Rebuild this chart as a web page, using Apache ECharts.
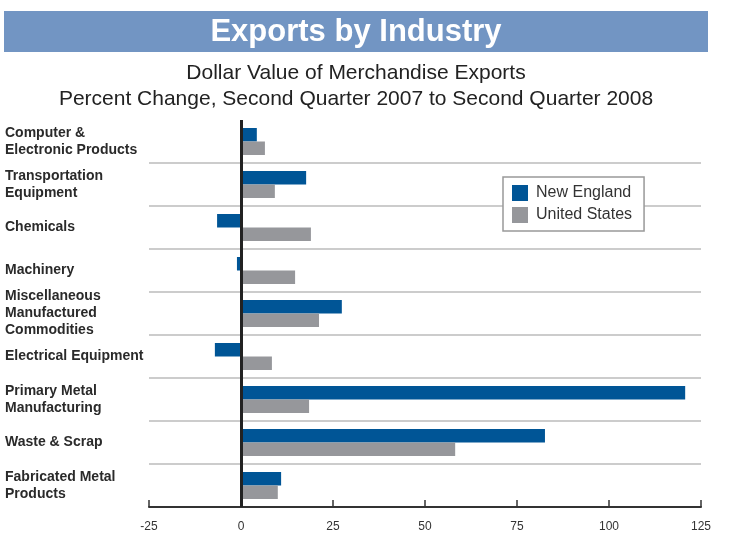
<!DOCTYPE html>
<html>
<head>
<meta charset="utf-8">
<script src="https://cdn.jsdelivr.net/npm/echarts@6/dist/echarts.min.js"></script>
<style>
  html, body { margin: 0; padding: 0; background: #fff; }
  #chart { width: 737px; height: 544px; }
</style>
</head>
<body>
<div id="chart"></div>
<script>
let industries = [
  'Computer &\nElectronic Products',
  'Transportation\nEquipment',
  'Chemicals',
  'Machinery',
  'Miscellaneous\nManufactured\nCommodities',
  'Electrical Equipment',
  'Primary Metal\nManufacturing',
  'Waste & Scrap',
  'Fabricated Metal\nProducts'
];
let newEngland = [4.3, 17.7, -6.5, -1.1, 27.4, -7.1, 120.7, 82.6, 10.9];
let unitedStates = [6.5, 9.2, 19.0, 14.7, 21.2, 8.4, 18.5, 58.2, 10.0];
let xTicks = [-25, 125, 25]; // min, max, step

let myChart;
function exportsChart(){
  let chartDom = document.getElementById('chart');
  if(myChart){
    myChart.dispose();
  }
  myChart = echarts.init(chartDom);
  let font = 'Liberation Sans, Arial, sans-serif';

  // no separator above the first band
  let sepColors = industries.map(function(d, i){ return i == 0 ? 'rgba(0,0,0,0)' : '#bbb'; });
  sepColors.push('#bbb');

  let options = {
    animation: false,
    textStyle: { fontFamily: font },
    graphic: [
      {
        type: 'rect',
        shape: { x: 4, y: 11, width: 704, height: 41 },
        style: { fill: '#7295c3' }
      },
      {
        type: 'text',
        x: 356, y: 32,
        style: {
          text: 'Exports by Industry',
          fill: '#fff',
          font: 'bold 31px ' + font,
          align: 'center',
          verticalAlign: 'middle'
        }
      },
      {
        type: 'text',
        x: 356, y: 73,
        style: {
          text: 'Dollar Value of Merchandise Exports',
          fill: '#222',
          font: '21px ' + font,
          align: 'center',
          verticalAlign: 'middle'
        }
      },
      {
        type: 'text',
        x: 356, y: 99,
        style: {
          text: 'Percent Change, Second Quarter 2007 to Second Quarter 2008',
          fill: '#222',
          font: '21px ' + font,
          align: 'center',
          verticalAlign: 'middle'
        }
      }
    ],
    legend: {
      orient: 'vertical',
      left: 503,
      top: 177,
      padding: [8, 12, 8, 9],
      backgroundColor: '#fff',
      borderColor: '#999',
      borderWidth: 1.5,
      icon: 'rect',
      itemWidth: 16,
      itemHeight: 16,
      itemGap: 6,
      textStyle: { fontSize: 16, color: '#333', padding: [0, 0, 0, 3] },
      data: ['New England', 'United States']
    },
    grid: {
      left: 149,
      right: 36,
      top: 120,
      bottom: 37
    },
    xAxis: {
      type: 'value',
      min: xTicks[0],
      max: xTicks[1],
      interval: xTicks[2],
      axisLine: { show: true, lineStyle: { color: '#333', width: 2 } },
      axisTick: { show: true, inside: true, length: 7, lineStyle: { color: '#333', width: 1.5 } },
      axisLabel: { color: '#333', fontSize: 12, margin: 14 },
      splitLine: { show: false }
    },
    yAxis: {
      type: 'category',
      inverse: true,
      data: industries,
      axisLine: { show: false },
      axisTick: { show: false },
      splitLine: { show: true, lineStyle: { color: sepColors, width: 1.5 } },
      axisLabel: {
        align: 'left',
        margin: 144,
        fontSize: 14,
        fontWeight: 'bold',
        lineHeight: 17,
        color: '#2a2a2a'
      }
    },
    series: [
      {
        name: 'New England',
        type: 'bar',
        data: newEngland,
        barWidth: 13.5,
        barGap: '0%',
        itemStyle: { color: '#005596' },
        markLine: {
          silent: true,
          symbol: 'none',
          label: { show: false },
          lineStyle: { color: '#222', width: 3, type: 'solid' },
          data: [{ xAxis: 0 }]
        }
      },
      {
        name: 'United States',
        type: 'bar',
        data: unitedStates,
        barWidth: 13.5,
        barGap: '0%',
        itemStyle: { color: '#96979b' }
      }
    ]
  };

  myChart.setOption(options);
}
exportsChart();
</script>
</body>
</html>
